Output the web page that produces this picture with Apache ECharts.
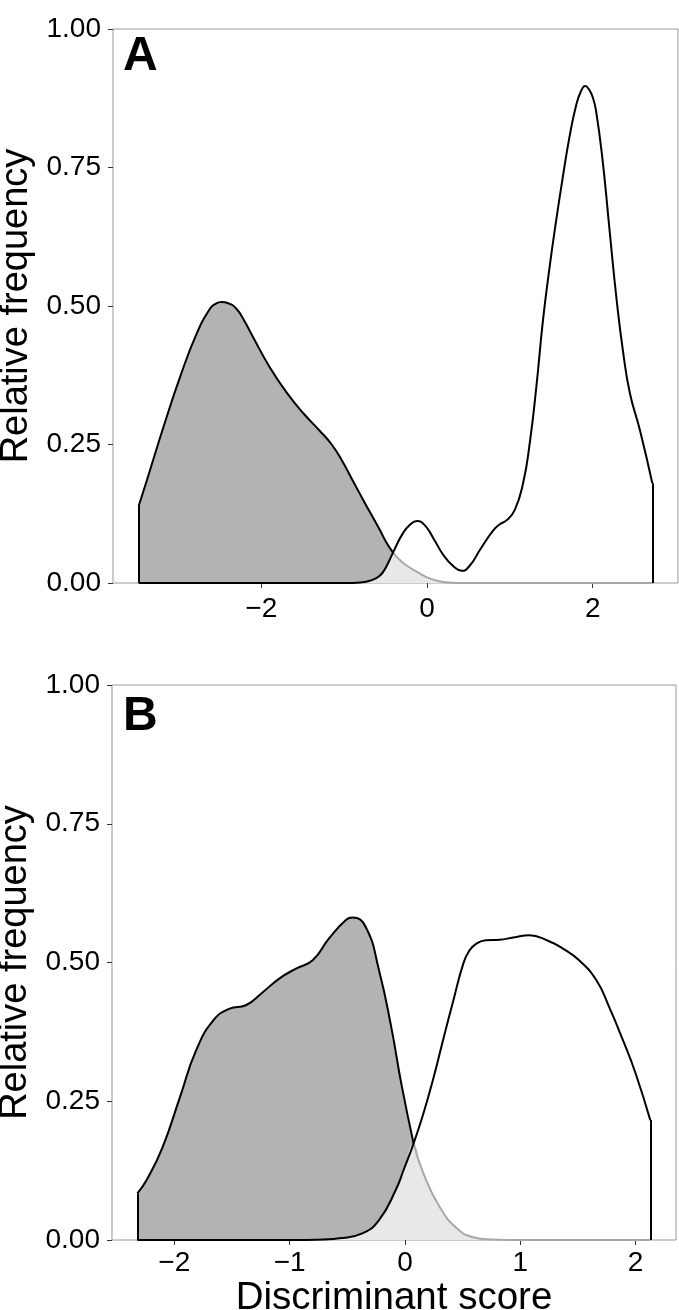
<!DOCTYPE html>
<html><head><meta charset="utf-8">
<script src="https://cdn.jsdelivr.net/npm/echarts@6/dist/echarts.min.js"></script>
<style>html,body{margin:0;padding:0;background:#fff}#c{width:679px;height:1310px}</style>
</head><body><div id="c"></div>
<script>
// ---- data ----
const yTicks = [0, 0.25, 0.5, 0.75, 1];
const xTicksA = [-2, 0, 2];
const xTicksB = [-2, -1, 0, 1, 2];
const panelLabels = ['A', 'B'];
const yTitle = 'Relative frequency';
const xTitle = 'Discriminant score';

// Panel A, group 1 (shaded) and group 2 (outline)
const aGroup1 = [[-3.48,0.139],[-3.38,0.186],[-3.18,0.282],[-2.98,0.372],[-2.78,0.450],[-2.62,0.495],[-2.55,0.504],[-2.48,0.507],[-2.40,0.505],[-2.30,0.495],[-2.20,0.472],[-2.10,0.444],[-1.90,0.390],[-1.70,0.345],[-1.49,0.306],[-1.29,0.274],[-1.15,0.250],[-1.03,0.222],[-0.90,0.186],[-0.77,0.150],[-0.57,0.096],[-0.49,0.073],[-0.41,0.055],[-0.33,0.042],[-0.25,0.032],[-0.12,0.020],[0.04,0.008],[0.20,0.002],[0.40,0],[1.0,0],[2.72,0]];
const aGroup2 = [[-3.48,0],[-1.0,0],[-0.80,0.001],[-0.69,0.004],[-0.57,0.013],[-0.49,0.030],[-0.41,0.055],[-0.29,0.090],[-0.20,0.106],[-0.12,0.112],[-0.03,0.105],[0.08,0.080],[0.20,0.050],[0.32,0.030],[0.42,0.022],[0.52,0.032],[0.64,0.060],[0.80,0.095],[0.88,0.106],[0.96,0.113],[1.06,0.132],[1.16,0.180],[1.24,0.252],[1.32,0.354],[1.40,0.474],[1.48,0.570],[1.56,0.655],[1.64,0.733],[1.72,0.805],[1.80,0.862],[1.86,0.888],[1.91,0.897],[1.96,0.890],[2.00,0.877],[2.04,0.853],[2.12,0.763],[2.20,0.643],[2.29,0.510],[2.37,0.414],[2.45,0.342],[2.57,0.276],[2.72,0.180]];
const aCross = -0.41;

// Panel B
const bGroup1 = [[-2.32,0.084],[-2.24,0.108],[-2.10,0.168],[-1.95,0.258],[-1.81,0.342],[-1.66,0.396],[-1.52,0.417],[-1.38,0.423],[-1.23,0.447],[-1.09,0.471],[-0.945,0.489],[-0.80,0.504],[-0.66,0.543],[-0.51,0.577],[-0.455,0.581],[-0.34,0.564],[-0.225,0.486],[-0.12,0.385],[-0.03,0.280],[0.075,0.174],[0.16,0.120],[0.30,0.060],[0.45,0.021],[0.59,0.005],[0.75,0.001],[1.0,0],[2.127,0]];
const bGroup2 = [[-2.32,0],[-1.0,0],[-0.70,0.001],[-0.57,0.003],[-0.37,0.012],[-0.225,0.036],[-0.08,0.090],[-0.01,0.127],[0.075,0.174],[0.16,0.228],[0.25,0.294],[0.33,0.360],[0.42,0.432],[0.506,0.498],[0.56,0.522],[0.62,0.534],[0.70,0.540],[0.82,0.541],[0.94,0.545],[1.08,0.549],[1.23,0.540],[1.37,0.525],[1.51,0.504],[1.66,0.468],[1.77,0.420],[1.89,0.360],[2.00,0.300],[2.127,0.216]];
const bCross = 0.075;

// ---- chart ----
const FONT = 'Liberation Sans';
function overlap(g1, g2, xc) {
  return g2.filter(p => p[0] < xc).concat(g1.filter(p => p[0] >= xc));
}
function edge(p) {
  return {
    symbol: ['none', 'none'], silent: true, animation: false,
    label: { show: false },
    lineStyle: { color: '#000', width: 2, type: 'solid' },
    data: [[{ coord: [p[0], 0] }, { coord: [p[0], p[1]] }]]
  };
}
function seriesFor(idx, g1, g2, xc) {
  const base = { type: 'line', xAxisIndex: idx, yAxisIndex: idx, symbol: 'none', smooth: 0.5, animation: false, silent: true };
  return [
    { ...base, data: g1, lineStyle: { opacity: 0 }, areaStyle: { color: '#b3b3b3', opacity: 1 } },
    { ...base, data: overlap(g1, g2, xc), lineStyle: { opacity: 0 }, areaStyle: { color: '#e8e8e8', opacity: 1 } },
    { ...base, data: g1.filter(p => p[0] >= xc), lineStyle: { color: '#a8a8a8', width: 2 } },
    { ...base, data: g1.filter(p => p[0] <= xc), lineStyle: { color: '#000', width: 2 }, markLine: edge(g1[0]) },
    { ...base, data: g2, lineStyle: { color: '#000', width: 2 }, markLine: edge(g2[g2.length - 1]) }
  ];
}
function xAxisFor(idx, min, max, ticks, withName) {
  const ax = {
    type: 'value', gridIndex: idx, min: min, max: max,
    axisLine: { show: false, onZero: false },
    splitLine: { show: false },
    axisTick: { show: true, customValues: ticks, length: 5, lineStyle: { color: '#333', width: 1 } },
    axisLabel: { customValues: ticks, formatter: v => String(v).replace('-', '\u2212'), fontSize: 28, color: '#000', fontFamily: FONT, margin: withName ? 9 : 12 }
  };
  if (withName) {
    ax.name = xTitle; ax.nameLocation = 'middle'; ax.nameGap = 39;
    ax.nameTextStyle = { fontSize: 38.5, color: '#000', fontFamily: FONT };
  }
  return ax;
}
function yAxisFor(idx) {
  return {
    type: 'value', gridIndex: idx, min: 0, max: 1, interval: 0.25,
    axisLine: { show: false, onZero: false },
    splitLine: { show: false },
    axisTick: { show: true, length: 5, lineStyle: { color: '#333', width: 1 } },
    axisLabel: { formatter: v => v.toFixed(2), fontSize: 28, color: '#000', fontFamily: FONT, margin: 12 },
    name: yTitle, nameLocation: 'middle', nameGap: 76,
    nameTextStyle: { fontSize: 38, color: '#000', fontFamily: FONT }
  };
}
const chart = echarts.init(document.getElementById('c'), null, { renderer: 'canvas' });
chart.setOption({
  backgroundColor: '#fff',
  animation: false,
  title: [
    { text: panelLabels[0], left: 123, top: 33, padding: 0, textStyle: { fontSize: 48, fontWeight: 'bold', color: '#000', fontFamily: FONT } },
    { text: panelLabels[1], left: 123, top: 693, padding: 0, textStyle: { fontSize: 48, fontWeight: 'bold', color: '#000', fontFamily: FONT } }
  ],
  grid: [
    { left: 113, top: 29, width: 565, height: 554, show: true, borderColor: '#999', borderWidth: 1, backgroundColor: 'transparent', outerBoundsMode: 'none', containLabel: false },
    { left: 112, top: 685, width: 564, height: 555, show: true, borderColor: '#999', borderWidth: 1, backgroundColor: 'transparent', outerBoundsMode: 'none', containLabel: false }
  ],
  xAxis: [xAxisFor(0, -3.79, 3.03, xTicksA, false), xAxisFor(1, -2.54, 2.35, xTicksB, true)],
  yAxis: [yAxisFor(0), yAxisFor(1)],
  series: [].concat(seriesFor(0, aGroup1, aGroup2, aCross), seriesFor(1, bGroup1, bGroup2, bCross))
});
</script></body></html>
